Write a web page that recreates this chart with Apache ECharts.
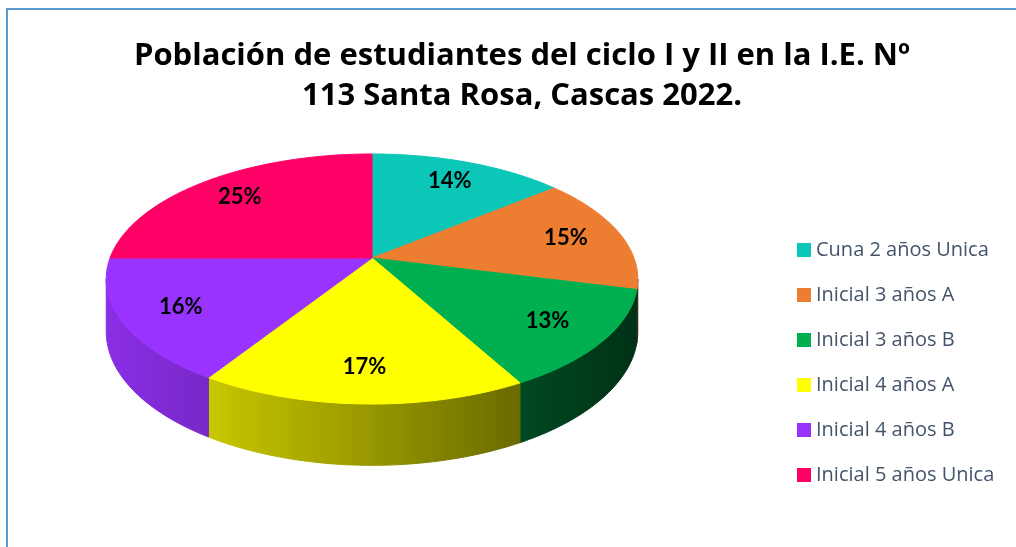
<!DOCTYPE html>
<html>
<head>
<meta charset="utf-8">
<script src="https://cdn.jsdelivr.net/npm/echarts@6/dist/echarts.min.js"></script>
<style>
    html, body { margin: 0; padding: 0; background: #fff; }
    #main { width: 1016px; height: 547px; }
</style>
</head>
<body>
<div id="main"></div>
<script>
var categories = ['Cuna 2 años Unica', 'Inicial 3 años A', 'Inicial 3 años B',
    'Inicial 4 años A', 'Inicial 4 años B', 'Inicial 5 años Unica'];
var shares = [14, 15, 13, 17, 16, 25];
var colors = ['#0AC7B8', '#ED7D31', '#00B050', '#FFFF00', '#9933FF', '#FF0066'];

(function () {
    var mychart = echarts.init(document.getElementById('main'));

    var total = 0;
    var starts = [];
    shares.forEach(function (v) {
        starts.push(total);
        total += v;
    });

    // tilted pie: centre, half width, half depth, perspective, thickness
    var cx = 372, cy = 258, rx = 262, ry = 121.5, persp = 0.168, thick = 51;
    var TWO_PI = Math.PI * 2;
    // outline tangent (walls only visible in front of it)
    var tangent = Math.acos(-persp);
    var xExt = rx / Math.sqrt(1 - persp * persp);

    function proj(theta, r, down) {
        var X = r * Math.sin(theta), Y = r * Math.cos(theta);
        var s = 1 / (1 + persp * Y);
        return [cx + rx * X * s, cy - ry * Y * s + thick * down * s];
    }

    function arc(a0, a1, r, down) {
        var n = Math.max(2, Math.ceil((a1 - a0) / (Math.PI / 180)));
        var pts = [];
        for (var k = 0; k <= n; k++) {
            pts.push(proj(a0 + (a1 - a0) * k / n, r, down));
        }
        return pts;
    }

    function shade(hex, f) {
        var n = parseInt(hex.slice(1), 16);
        var r = Math.round(((n >> 16) & 255) * f);
        var g = Math.round(((n >> 8) & 255) * f);
        var b = Math.round((n & 255) * f);
        return 'rgb(' + r + ',' + g + ',' + b + ')';
    }

    function renderItem(params, api) {
        var i = params.seriesIndex;
        var val = api.value(0);
        var a0 = starts[i] / total * TWO_PI;
        var a1 = (starts[i] + val) / total * TWO_PI;
        var color = colors[i];
        var children = [];

        var top = [[cx, cy]].concat(arc(a0, a1, 1, 0));
        children.push({
            type: 'polygon',
            shape: {points: top},
            style: {fill: color, stroke: color, lineWidth: 1},
            z2: 10
        });

        //侧面
        var w0 = Math.max(a0, tangent), w1 = Math.min(a1, TWO_PI - tangent);
        if (w1 > w0) {
            var side = arc(w0, w1, 1, 0).concat(arc(w0, w1, 1, 1).reverse());
            var grad = new echarts.graphic.LinearGradient(cx - xExt, 0, cx + xExt, 0, [
                {offset: 0, color: shade(color, 0.9)},
                {offset: 1, color: shade(color, 0.28)}
            ], true);
            children.push({
                type: 'polygon',
                shape: {points: side},
                style: {fill: grad, stroke: grad, lineWidth: 1},
                z2: 1
            });
        }

        var lp = proj((a0 + a1) / 2, 0.78, 0);
        children.push({
            type: 'text',
            x: lp[0],
            y: lp[1],
            style: {
                text: Math.round(val / total * 100) + '%',
                align: 'center',
                verticalAlign: 'middle',
                fill: '#000',
                fontSize: 22,
                fontWeight: 'bold',
                fontFamily: 'Lato'
            },
            z2: 20
        });
        return {type: 'group', children: children};
    }

    var option = {
        animation: false,
        title: {
            text: 'Población de estudiantes del ciclo I y II en la I.E. Nº\n113 Santa Rosa, Cascas 2022.',
            left: 522,
            top: 36,
            textAlign: 'center',
            padding: 0,
            textStyle: {
                fontFamily: 'Open Sans',
                fontSize: 31,
                fontWeight: 'bold',
                color: '#000',
                lineHeight: 40
            }
        },
        legend: {
            orient: 'vertical',
            left: 797,
            top: 240,
            padding: 0,
            itemWidth: 14,
            itemHeight: 14,
            itemGap: 25,
            icon: 'rect',
            data: categories,
            textStyle: {
                fontFamily: 'Open Sans',
                fontSize: 20,
                lineHeight: 20,
                color: '#44546A'
            }
        },
        graphic: [{
            type: 'rect',
            shape: {x: 7, y: 9, width: 1040, height: 580},
            style: {fill: 'none', stroke: '#5B9BD5', lineWidth: 2},
            silent: true
        }],
        series: shares.map(function (v, i) {
            return {
                type: 'custom',
                name: categories[i],
                coordinateSystem: 'none',
                itemStyle: {color: colors[i]},
                data: [[v]],
                renderItem: renderItem
            };
        })
    };
    mychart.setOption(option);
    window.addEventListener('resize', function () {
        mychart.resize();
    });
})();
</script>
</body>
</html>
